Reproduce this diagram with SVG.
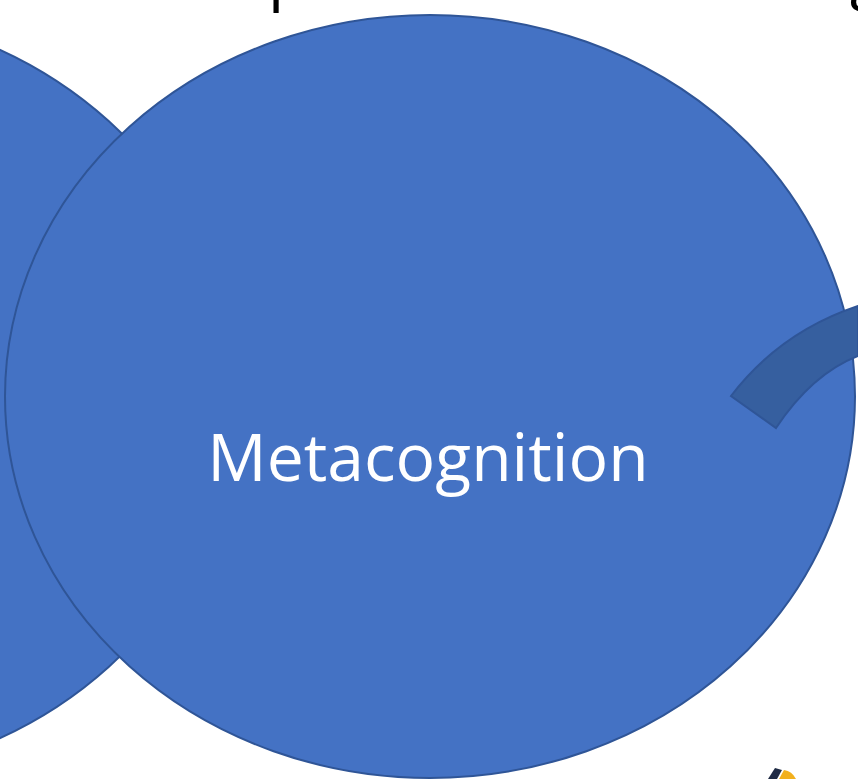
<svg xmlns="http://www.w3.org/2000/svg" width="858" height="779" viewBox="0 0 858 779">
<style>
.circ{fill:#4472C4;stroke:#2F5597;stroke-width:2}
.lbl{fill:#FFFFFF;font-family:"Open Sans","Liberation Sans",sans-serif;font-size:66px;text-anchor:middle}
.top{fill:#000000;font-family:"Open Sans","Liberation Sans",sans-serif;font-size:64px}
</style>
<rect width="858" height="779" fill="#FFFFFF"/>
<text class="top" x="268" y="-2">p</text>
<text class="top" x="850" y="-3">g</text>
<g id="left-circle">
<ellipse class="circ" cx="-194" cy="394" rx="428" ry="386"/>
</g>
<g id="metacognition">
<ellipse class="circ" cx="430" cy="396.5" rx="425" ry="381.5"/>
<text class="lbl" x="428" y="481">Metacognition</text>
</g>
<g id="connectors">
<path d="M731,396 Q780,332 858,306 L858,356 Q812,374 776,428 Z" fill="#365F9F" stroke="#2F5597" stroke-width="2"/>
</g>
<g id="pencil">
<path d="M768,779 L775,768 L782,770 L777,779 Z" fill="#1F2A44"/>
<path d="M779,779 L784,770 Q792,771 796,779 Z" fill="#F2B01E"/>
</g>
</svg>
